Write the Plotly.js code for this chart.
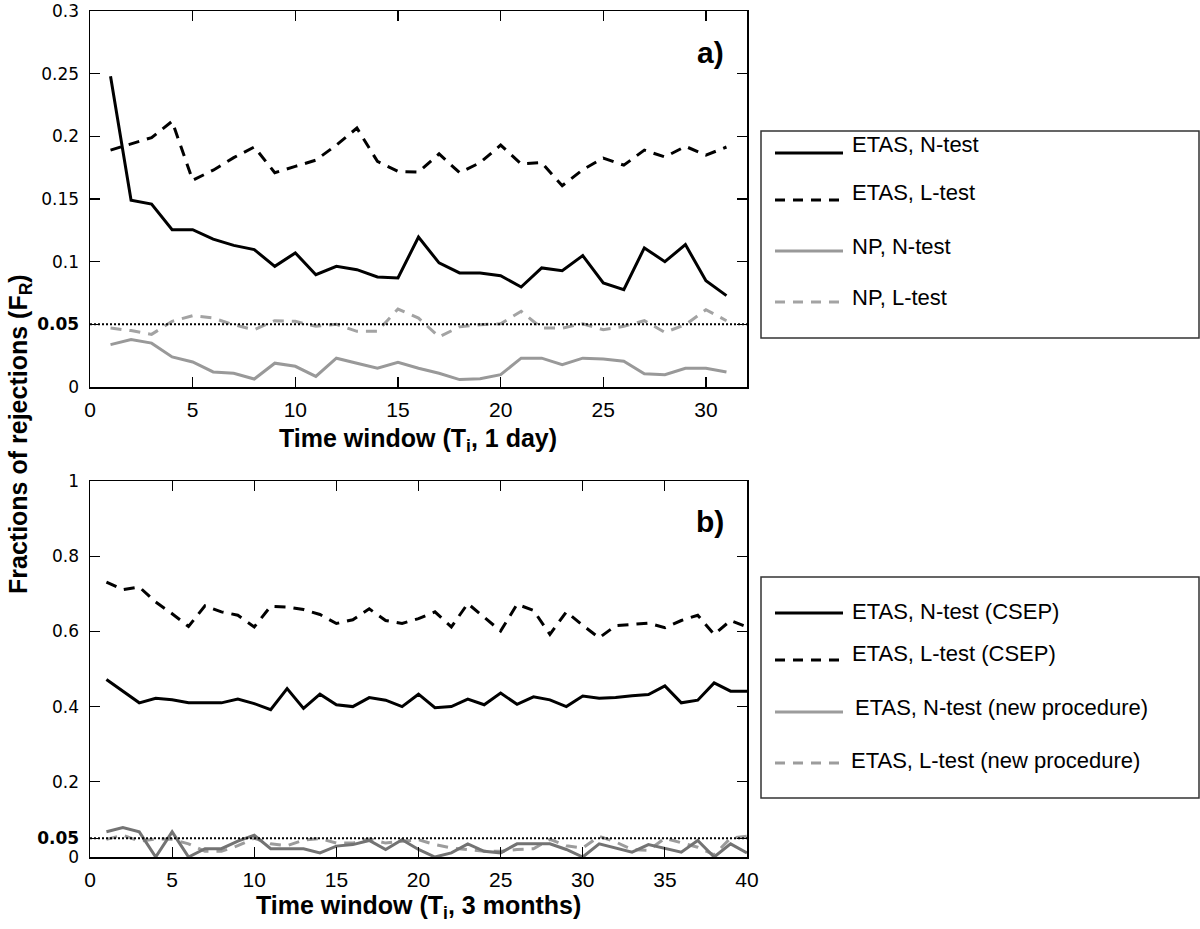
<!DOCTYPE html>
<html>
<head>
<meta charset="utf-8">
<script src="https://cdn.plot.ly/plotly-3.0.1.min.js"></script>
<style>html,body{margin:0;padding:0;background:#fff;}#chart{width:1200px;height:929px;}</style>
</head>
<body>
<div id="chart"></div>
<script>
// ---------- data ----------
const timeWindowDay = [1,2,3,4,5,6,7,8,9,10,11,12,13,14,15,16,17,18,19,20,21,22,23,24,25,26,27,28,29,30,31];
const etasNDay = [0.248,0.149,0.146,0.1255,0.1255,0.118,0.113,0.1096,0.0963,0.107,0.0896,0.0963,0.0936,0.0878,0.087,0.1197,0.099,0.091,0.091,0.0888,0.0798,0.095,0.0928,0.1048,0.083,0.0777,0.111,0.100,0.1136,0.0848,0.0729];
const etasLDay = [0.189,0.194,0.199,0.212,0.165,0.173,0.183,0.1915,0.171,0.176,0.181,0.193,0.2066,0.18,0.172,0.1715,0.186,0.171,0.179,0.193,0.178,0.179,0.1606,0.1734,0.1827,0.177,0.189,0.1835,0.192,0.185,0.1915];
const npNDay = [0.0338,0.0378,0.035,0.024,0.02,0.012,0.011,0.0064,0.019,0.0165,0.0085,0.023,0.019,0.015,0.0197,0.015,0.011,0.0059,0.0066,0.0098,0.023,0.023,0.0178,0.023,0.0223,0.0205,0.0106,0.0098,0.0149,0.0149,0.012];
const npLDay = [0.047,0.045,0.042,0.0524,0.0569,0.055,0.0497,0.0457,0.0529,0.0524,0.0484,0.05,0.0444,0.0444,0.0622,0.055,0.040,0.048,0.0497,0.0505,0.0604,0.047,0.047,0.0505,0.0457,0.0484,0.0529,0.0436,0.0497,0.0617,0.0529];

const timeWindow3m = [1,2,3,4,5,6,7,8,9,10,11,12,13,14,15,16,17,18,19,20,21,22,23,24,25,26,27,28,29,30,31,32,33,34,35,36,37,38,39,40];
const etasNCsep = [0.472,0.441,0.41,0.422,0.418,0.41,0.41,0.41,0.42,0.408,0.392,0.448,0.395,0.433,0.405,0.40,0.424,0.417,0.40,0.433,0.397,0.40,0.42,0.405,0.436,0.406,0.426,0.418,0.40,0.428,0.422,0.424,0.429,0.432,0.455,0.41,0.417,0.463,0.441,0.441];
const etasLCsep = [0.731,0.711,0.718,0.678,0.647,0.613,0.668,0.652,0.643,0.612,0.667,0.665,0.658,0.645,0.621,0.631,0.660,0.629,0.621,0.634,0.652,0.612,0.674,0.638,0.601,0.672,0.656,0.592,0.652,0.616,0.583,0.615,0.618,0.622,0.610,0.629,0.643,0.592,0.629,0.612];
const etasNNew = [0.067,0.078,0.067,0,0.067,0,0.022,0.022,0.042,0.058,0.022,0.022,0.022,0.011,0.029,0.033,0.044,0.02,0.046,0.02,0,0.011,0.035,0.015,0.011,0.035,0.035,0.035,0.02,0,0.035,0.024,0.013,0.033,0.022,0.013,0.044,0,0.035,0.011];
const etasLNew = [0.047,0.058,0.042,0.048,0.047,0.035,0.015,0.015,0.03,0.05,0.035,0.03,0.045,0.049,0.037,0.037,0.048,0.037,0.042,0.046,0.033,0.024,0.02,0.015,0.015,0.02,0.022,0.047,0.03,0.024,0.055,0.04,0.02,0.018,0.05,0.037,0.026,0.006,0.05,0.055];

const threshold = 0.05;

const namesTop = ['ETAS, N-test','ETAS, L-test','NP, N-test','NP, L-test'];
const namesBottom = ['ETAS, N-test (CSEP)','ETAS, L-test (CSEP)','ETAS, N-test (new procedure)','ETAS, L-test (new procedure)'];

const yTickValsTop = [0,0.05,0.1,0.15,0.2,0.25,0.3];
const yTickTextTop = ['0','<b>0.05</b>','0.1','0.15','0.2','0.25','0.3'];
const yTickValsBottom = [0,0.05,0.2,0.4,0.6,0.8,1];
const yTickTextBottom = ['0','<b>0.05</b>','0.2','0.4','0.6','0.8','1'];
const xTickValsTop = [0,5,10,15,20,25,30];
const xTickValsBottom = [0,5,10,15,20,25,30,35,40];

// ---------- styles ----------
const BLACK = '#000000';
const GRAY_TOP = '#999999';
const GRAY_TOP_D = '#a3a3a3';
const GRAY_BOT = '#737373';
const GRAY_BOT_D = '#9c9c9c';
const DASH = '11px,8px';
const LW = 3;

function tr(x, y, xa, ya, color, dash, name) {
  return {x: x, y: y, xaxis: xa, yaxis: ya, type: 'scatter', mode: 'lines', name: name,
    line: {color: color, width: LW, dash: dash}, showlegend: false, hoverinfo: 'skip'};
}

const data = [
  tr(timeWindowDay, npLDay, 'x', 'y', GRAY_TOP_D, DASH, namesTop[3]),
  tr(timeWindowDay, npNDay, 'x', 'y', GRAY_TOP, 'solid', namesTop[2]),
  tr(timeWindowDay, etasLDay, 'x', 'y', BLACK, DASH, namesTop[1]),
  tr(timeWindowDay, etasNDay, 'x', 'y', BLACK, 'solid', namesTop[0]),
  tr(timeWindow3m, etasLNew, 'x2', 'y2', GRAY_BOT_D, DASH, namesBottom[3]),
  tr(timeWindow3m, etasNNew, 'x2', 'y2', GRAY_BOT, 'solid', namesBottom[2]),
  tr(timeWindow3m, etasLCsep, 'x2', 'y2', BLACK, DASH, namesBottom[1]),
  tr(timeWindow3m, etasNCsep, 'x2', 'y2', BLACK, 'solid', namesBottom[0])
];

const W = 1200, H = 929;
const px = v => v / W;
const py = v => 1 - v / H;

const tickFontY = {family: 'DejaVu Sans, Liberation Sans, sans-serif', size: 17, color: '#000'};
const tickFontX = {family: 'Liberation Sans, Arial, sans-serif', size: 21, color: '#000'};

function xaxisCfg(range, tickvals) {
  return {domain: [px(90), px(747)], range: range, tickmode: 'array', tickvals: tickvals,
    ticks: 'inside', ticklen: 10, tickwidth: 1.2, tickcolor: '#000', showline: true, linecolor: '#000',
    linewidth: 1.5, mirror: 'ticks', showgrid: false, zeroline: false, tickfont: tickFontX, ticklabelstandoff: 3};
}
function yaxisCfg(domain, range, tickvals, ticktext) {
  return {domain: domain, range: range, tickmode: 'array', tickvals: tickvals, ticktext: ticktext,
    ticks: 'inside', ticklen: 10, tickwidth: 1.2, tickcolor: '#000', showline: true, linecolor: '#000',
    linewidth: 1.5, mirror: 'ticks', showgrid: false, zeroline: false, tickfont: tickFontY, ticklabelstandoff: 6};
}

const shapes = [
  {type: 'line', xref: 'x domain', yref: 'y', x0: 0, x1: 1, y0: threshold, y1: threshold,
   line: {color: '#000', width: 2, dash: '2px,2px'}},
  {type: 'line', xref: 'x2 domain', yref: 'y2', x0: 0, x1: 1, y0: threshold, y1: threshold,
   line: {color: '#000', width: 2, dash: '2px,2px'}}
];

const annotations = [];
const legFont = {family: 'Liberation Sans, Arial, sans-serif', size: 22, color: '#000'};

function addLegend(box, entries) {
  shapes.push({type: 'rect', xref: 'paper', yref: 'paper', x0: px(box[0]), x1: px(box[1]), y0: py(box[3]), y1: py(box[2]),
    line: {color: '#333', width: 1.5}, fillcolor: 'rgba(0,0,0,0)'});
  entries.forEach(e => {
    shapes.push({type: 'line', xref: 'paper', yref: 'paper', x0: px(775), x1: px(843), y0: py(e.ly), y1: py(e.ly),
      line: {color: e.color, width: LW, dash: e.dash === 'solid' ? 'solid' : '10px,8px'}});
    annotations.push({xref: 'paper', yref: 'paper', x: px(e.tx), y: py(e.ty), xanchor: 'left', yanchor: 'middle',
      text: e.text, showarrow: false, font: legFont});
  });
}

addLegend([761, 1199, 131, 338], [
  {text: namesTop[0], color: BLACK, dash: 'solid', ly: 153, ty: 145, tx: 850},
  {text: namesTop[1], color: BLACK, dash: 'dash', ly: 200, ty: 192, tx: 850},
  {text: namesTop[2], color: GRAY_TOP, dash: 'solid', ly: 251, ty: 247, tx: 850},
  {text: namesTop[3], color: GRAY_TOP_D, dash: 'dash', ly: 302, ty: 297, tx: 850}
]);
addLegend([761, 1199, 577, 798], [
  {text: namesBottom[0], color: BLACK, dash: 'solid', ly: 613, ty: 611, tx: 850},
  {text: namesBottom[1], color: BLACK, dash: 'dash', ly: 660, ty: 653, tx: 850},
  {text: namesBottom[2], color: GRAY_BOT_D, dash: 'solid', ly: 712, ty: 707, tx: 853},
  {text: namesBottom[3], color: GRAY_BOT_D, dash: 'dash', ly: 763, ty: 760, tx: 849}
]);

const titleFont = {family: 'Liberation Sans, Arial, sans-serif', size: 25, color: '#000'};
annotations.push(
  {xref: 'paper', yref: 'paper', x: px(418), y: py(440), xanchor: 'center', yanchor: 'middle', showarrow: false,
   text: '<b>Time window (T<sub>i</sub>, 1 day)</b>', font: titleFont},
  {xref: 'paper', yref: 'paper', x: px(418), y: py(907), xanchor: 'center', yanchor: 'middle', showarrow: false,
   text: '<b>Time window (T<sub>i</sub>, 3 months)</b>', font: titleFont},
  {xref: 'paper', yref: 'paper', x: px(20), y: py(434), xanchor: 'center', yanchor: 'middle', showarrow: false,
   textangle: -90, text: '<b>Fractions of rejections (F<sub>R</sub>)</b>', font: titleFont},
  {xref: 'paper', yref: 'paper', x: px(710), y: py(53), xanchor: 'center', yanchor: 'middle', showarrow: false,
   text: '<b>a)</b>', font: {family: 'Liberation Sans, Arial, sans-serif', size: 30, color: '#000'}},
  {xref: 'paper', yref: 'paper', x: px(710), y: py(521), xanchor: 'center', yanchor: 'middle', showarrow: false,
   text: '<b>b)</b>', font: {family: 'Liberation Sans, Arial, sans-serif', size: 30, color: '#000'}}
);

const layout = {
  width: W, height: H,
  margin: {l: 0, r: 0, t: 0, b: 0, pad: 0},
  paper_bgcolor: '#fff', plot_bgcolor: '#fff',
  showlegend: false,
  xaxis: Object.assign(xaxisCfg([0, 32], xTickValsTop), {anchor: 'y'}),
  yaxis: Object.assign(yaxisCfg([py(387), py(11)], [0, 0.3], yTickValsTop, yTickTextTop), {anchor: 'x'}),
  xaxis2: Object.assign(xaxisCfg([0, 40], xTickValsBottom), {anchor: 'y2'}),
  yaxis2: Object.assign(yaxisCfg([py(857), py(481)], [0, 1], yTickValsBottom, yTickTextBottom), {anchor: 'x2'}),
  shapes: shapes,
  annotations: annotations
};

Plotly.newPlot('chart', data, layout, {staticPlot: true, displayModeBar: false});
</script>
</body>
</html>
